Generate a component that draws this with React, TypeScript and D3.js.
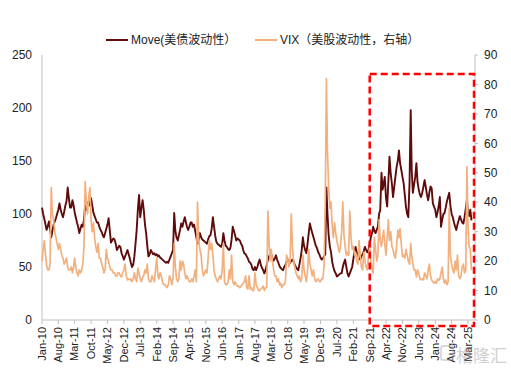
import React from "react";
import * as d3 from "d3";

// Semi-monthly readings (1st and 16th of each month), Jan 2010 onward
const move2010 = [106,100,95,90,85,88,93,86,78,84,90,93,96,100,104,110,104,100,97,102,108,112,125,115];
const move2011 = [106,106,113,108,102,97,92,88,82,86,90,88,95,108,104,110,112,108,115,108,101,98,95,92];
const move2012 = [92,88,85,83,80,78,82,86,90,96,84,73,75,77,76,72,66,68,70,69,63,60,57,60];
const move2013 = [63,66,62,58,54,50,52,60,72,85,105,118,97,105,113,104,90,82,70,60,62,66,64,62];
const move2014 = [63,61,62,60,61,59,58,57,56,55,54,55,54,57,60,63,66,101,84,78,75,80,85,91];
const move2015 = [88,93,97,92,88,85,88,92,92,88,90,84,78,72,76,82,78,76,75,74,73,72,76,79];
const move2016 = [80,86,97,88,80,74,72,71,70,69,72,82,75,70,69,67,66,68,76,88,84,80,75,77];
const move2017 = [76,75,72,70,66,63,62,60,58,55,54,52,48,47,50,47,50,54,57,52,49,47,44,47];
const move2018 = [52,57,60,63,62,58,56,58,61,57,54,51,49,48,47,50,52,55,57,55,54,56,57,55];
const move2019 = [52,50,48,47,52,58,66,78,70,66,63,72,82,91,86,82,78,74,70,68,64,62,59,57];
const move2020 = [58,60,62,125,100,80,69,64,55,50,46,44,41,42,43,44,44,50,54,57,50,44,41,44];
const move2021 = [47,50,58,66,69,64,62,58,57,60,62,65,69,66,64,66,72,78,82,88,84,82,85,88];
const move2022 = [100,104,139,123,128,135,115,107,130,154,138,129,116,125,135,144,150,160,148,142,135,129,118,107];
const move2023 = [100,97,130,198,142,120,128,135,148,130,123,118,116,120,126,132,125,118,113,120,126,124,110,107];
const move2024 = [104,97,102,108,116,88,95,100,101,106,112,116,120,108,100,97,92,88,85,90,94,98,95,92];
const move2025 = [91,97,105,113,102,98,104,94];

const vix2010 = [20,24,27,22,19,17,17,19,45,36,34,30,28,26,24,26,24,22,21,19,20,21,18,17];
const vix2011 = [17,18,16,18,21,18,16,15,17,16,17,19,25,47,40,36,42,45,34,30,33,28,25,23];
const vix2012 = [26,21,21,19,18,16,17,24,21,20,18,17,17,16,16,15,15,16,16,15,14.6,16,17,19];
const vix2013 = [15,13.6,14,13.6,14,13,14,16,14,13,17.6,16,14,13,14.6,15,17,16,19,14,13,13,15,14];
const vix2014 = [13,17,21,15,14,16,15,13,12,12,11.5,11,12,15,14,12,14,26,18,14,13,14,20,17];
const vix2015 = [20,19,16,14,15,14,13,13,14,13,15,17,13,40,27,24,22,17,15,16,17,16,21,27];
const vix2016 = [24,26,22,17,15,14,13,14,15,14,17,26,13,12,12,13,17,14,22,13,12,13,12,11.5];
const vix2017 = [11.5,11,11.5,12,12.5,13,15,11,10.5,15,10.5,11,10,10,16,12,11,10,10,10.5,11,11.5,10,11];
const vix2018 = [11,37,26,20,24,20,17,15,15,13,14,12,12.5,11,12,12,13,22,21,18,20,36,25,20];
const vix2019 = [18,16,15,14,15,13,14,22,17,15,13,17,24,19,17,15,17,14,13,13.6,14,13,13,14];
const vix2020 = [14,18,40,82,57,45,38,40,32,28,33,29.5,27,25,23,25,30,40,29,25,22,23,22,37];
const vix2021 = [28,24,25,22,23,20,19,27,22,18,17,23,20,18,17,22,25,20,17,16,28,24,20,22];
const vix2022 = [34,27,25,28,30.5,26,22,28,34,27,30,25,24,22,21,25,30.5,28,31,26,21.5,22,21,24];
const vix2023 = [22,20,19,26,22,19,17,17,14.6,17,16,14,13.6,14,13.6,16,15,14,17,19,15,13.6,13,12.5];
const vix2024 = [13,12.5,14,13.5,14,16,18,14,12.5,13.6,12,13,38,22,19,17,16,20,17,22,15,14,15,18];
const vix2025 = [19,16,17,52,33,25,24,17];

const xTickLabels = ["Jan-10","Aug-10","Mar-11","Oct-11","May-12","Dec-12","Jul-13","Feb-14","Sep-14","Apr-15","Nov-15","Jun-16","Jan-17","Aug-17","Mar-18","Oct-18","May-19","Dec-19","Jul-20","Feb-21","Sep-21","Apr-22","Nov-22","Jun-23","Jan-24","Aug-24","Mar-25"];
const leftTicks = [0, 50, 100, 150, 200, 250];
const rightTicks = [0, 10, 20, 30, 40, 50, 60, 70, 80, 90];
const seriesNames = ["Move(美债波动性）", "VIX（美股波动性，右轴）"];
const boxStart = "Sep-21";

const moveVals = [move2010,move2011,move2012,move2013,move2014,move2015,move2016,move2017,move2018,move2019,move2020,move2021,move2022,move2023,move2024,move2025].flat();
const vixVals = [vix2010,vix2011,vix2012,vix2013,vix2014,vix2015,vix2016,vix2017,vix2018,vix2019,vix2020,vix2021,vix2022,vix2023,vix2024,vix2025].flat();

const dateAt = (i: number) => new Date(2010, Math.floor(i / 2), i % 2 === 0 ? 1 : 16);
const parseLbl = d3.timeParse("%b-%y");

const FONT = "'Liberation Sans', Arial, 'Noto Sans CJK SC', sans-serif";
const MOVE_C = "#5E0B0B";
const VIX_C = "#F3B07F";
const AXIS_C = "#BFBFBF";

export default function App() {
  const left = 42, right = 475, top = 55, bottom = 320;
  const x = d3.scaleTime().domain([new Date(2010, 0, 1), new Date(2025, 5, 1)]).range([left, right]);
  const yL = d3.scaleLinear().domain([0, 250]).range([bottom, top]);
  const yR = d3.scaleLinear().domain([0, 90]).range([bottom, top]);

  const moveLine = d3.line<number>().x((_, i) => x(dateAt(i))).y((v) => yL(v));
  const vixLine = d3.line<number>().x((_, i) => x(dateAt(i))).y((v) => yR(v));

  const boxX0 = x(parseLbl(boxStart) as Date);

  return (
    <svg width={511} height={372} style={{ position: "absolute", left: 0, top: 0, background: "#fff" }} fontFamily={FONT}>
      <rect width={511} height={372} fill="#fff" />
      {/* axes */}
      <line x1={left} x2={left} y1={top} y2={bottom} stroke={AXIS_C} strokeWidth={1} />
      <line x1={right} x2={right} y1={top} y2={bottom} stroke={AXIS_C} strokeWidth={1} />
      <line x1={left} x2={right} y1={bottom} y2={bottom} stroke={AXIS_C} strokeWidth={1} />
      {leftTicks.map((t) => (
        <text key={"l" + t} x={32} y={yL(t)} dy="0.35em" textAnchor="end" fontSize={12} fill="#222">{t}</text>
      ))}
      {rightTicks.map((t) => (
        <g key={"r" + t}>
          <line x1={right} x2={right + 3} y1={yR(t)} y2={yR(t)} stroke={AXIS_C} />
          <text x={484} y={yR(t)} dy="0.35em" textAnchor="start" fontSize={12} fill="#222">{t}</text>
        </g>
      ))}
      {xTickLabels.map((l) => {
        const xx = x(parseLbl(l) as Date);
        return (
          <g key={l}>
            <line x1={xx} x2={xx} y1={bottom} y2={bottom + 4} stroke={AXIS_C} />
            <text transform={`translate(${xx},${bottom + 7}) rotate(-90)`} dy="0.35em" textAnchor="end" fontSize={11} fill="#222">{l}</text>
          </g>
        );
      })}
      {/* series */}
      <path d={moveLine(moveVals) || ""} fill="none" stroke={MOVE_C} strokeWidth={1.9} strokeLinejoin="round" />
      <path d={vixLine(vixVals) || ""} fill="none" stroke={VIX_C} strokeWidth={1.7} strokeLinejoin="round" />
      {/* highlight box */}
      <rect x={boxX0} y={74} width={474 - boxX0} height={252} fill="none" stroke="#FF0000" strokeWidth={2.5} strokeDasharray="7,4" />
      {/* legend */}
      <line x1={106} x2={128} y1={40} y2={40} stroke={MOVE_C} strokeWidth={2} />
      <text x={131} y={44} fontSize={12} fill="#222">{seriesNames[0]}</text>
      <line x1={255} x2={277} y1={40} y2={40} stroke={VIX_C} strokeWidth={2} />
      <text x={280} y={44} fontSize={12} fill="#222">{seriesNames[1]}</text>
      {/* watermark */}
      <g opacity={0.55}>
        <rect x={441} y={346} width={12} height={14} rx={2} fill="none" stroke="#aaa" strokeWidth={1.5} />
        <text x={456} y={362} fontSize={17} fill="#aaa">格隆汇</text>
      </g>
    </svg>
  );
}
